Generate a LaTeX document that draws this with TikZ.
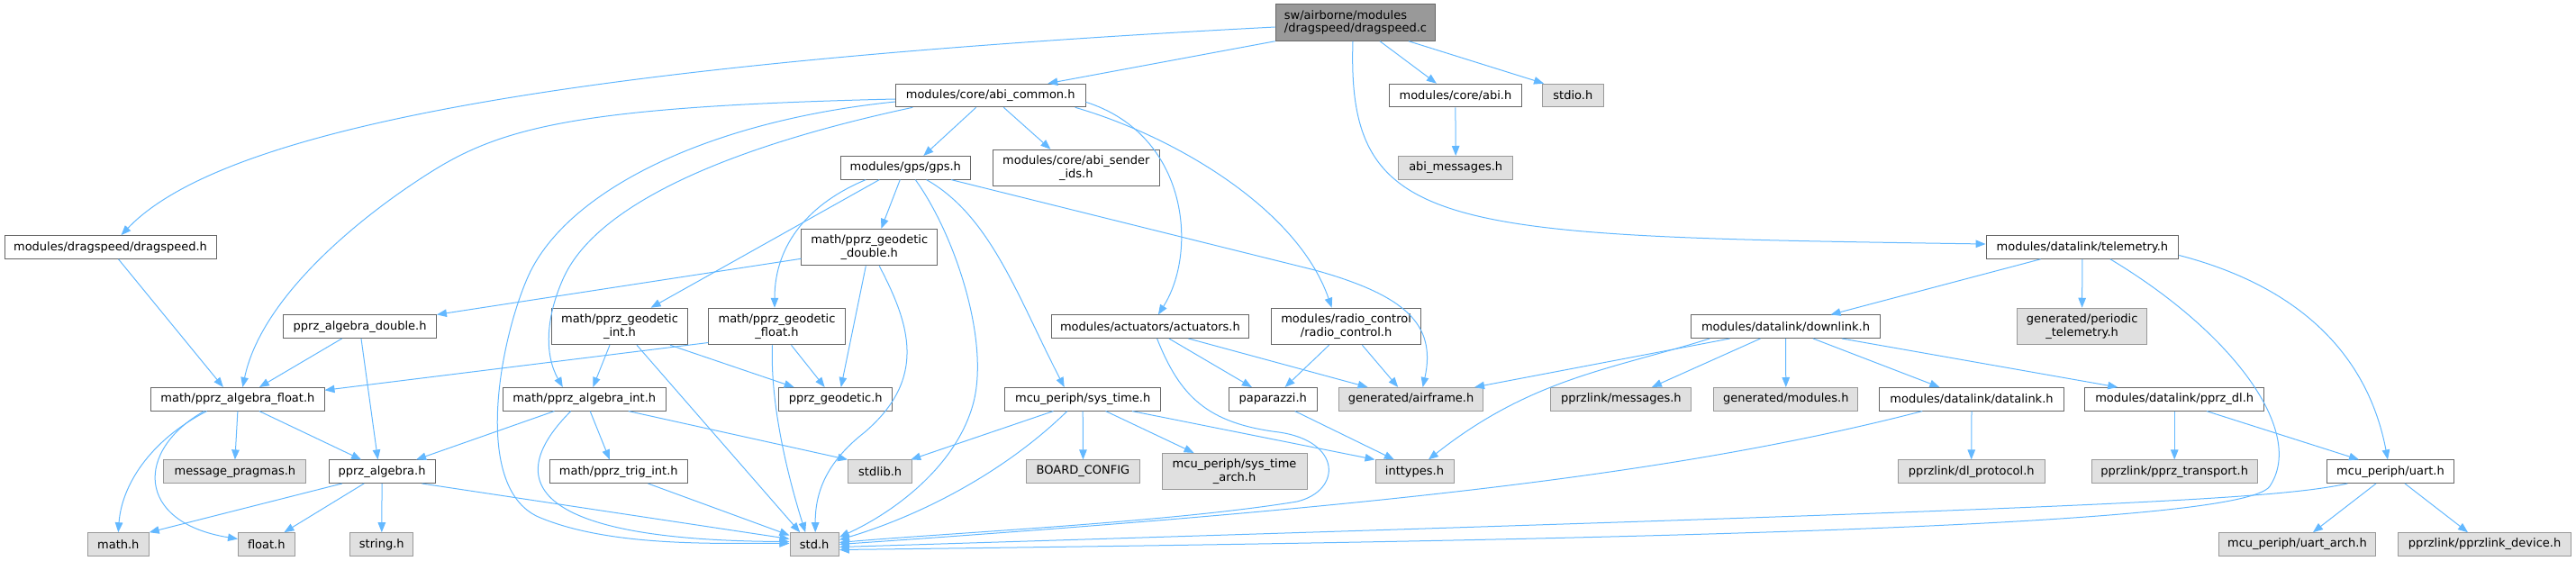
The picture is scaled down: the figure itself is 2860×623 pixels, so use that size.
\documentclass[tikz,border=0pt]{standalone}
\usepackage{fontspec}
\setmainfont{DejaVu Sans}
\usetikzlibrary{arrows.meta}
\definecolor{edgeblue}{HTML}{63B8FF}
\definecolor{bordw}{HTML}{666666}
\definecolor{bordg}{HTML}{999999}
\definecolor{fillg}{HTML}{E0E0E0}
\definecolor{fillr}{HTML}{999999}
\tikzset{
  basebox/.style={rectangle, line width=1pt, inner sep=0pt, text=black,
    font=\fontsize{13}{14.4}\selectfont, align=center, minimum height=25.6pt},
  wbox/.style={basebox, draw=bordw, fill=white},
  gbox/.style={basebox, draw=bordg, fill=fillg},
  rbox/.style={basebox, draw=bordw, fill=fillr, align=left},
  two/.style={minimum height=40.5pt},
  dep/.style={draw=edgeblue, line width=1pt, -{Triangle[length=11pt,width=8.5pt]}}
}
\begin{document}
\begin{tikzpicture}[x=1pt,y=-1pt]
\useasboundingbox (0,0) rectangle (2860,623);
% row 0
\node[rbox, two, minimum width=177.6pt] (root) at (1505,25) {sw/airborne/modules\\/dragspeed/dragspeed.c};
% row 1
\node[wbox, minimum width=210.7pt] (abic) at (1099.7,106) {modules/core/abi\_common.h};
\node[wbox, minimum width=146.9pt] (abi) at (1615.9,106) {modules/core/abi.h};
\node[gbox, minimum width=67.4pt] (stdio) at (1746.3,106) {stdio.h};
% row 2
\node[wbox, minimum width=144.6pt] (gps) at (1005.3,186.3) {modules/gps/gps.h};
\node[wbox, two, minimum width=185.6pt] (sender) at (1194.8,186.5) {modules/core/abi\_sender\\\_ids.h};
\node[gbox, minimum width=126.7pt] (abimsg) at (1616.2,186.3) {abi\_messages.h};
% row 3
\node[wbox, minimum width=235pt] (dsh) at (122.5,274.5) {modules/dragspeed/dragspeed.h};
\node[wbox, two, minimum width=151pt] (gdbl) at (965.3,274.7) {math/pprz\_geodetic\\\_double.h};
\node[wbox, minimum width=213.7pt] (telem) at (2311.9,274.5) {modules/datalink/telemetry.h};
% row 4
\node[wbox, minimum width=169.7pt] (adbl) at (399.6,362.7) {pprz\_algebra\_double.h};
\node[wbox, two, minimum width=151.2pt] (gint) at (688,362.5) {math/pprz\_geodetic\\\_int.h};
\node[wbox, two, minimum width=151.2pt] (gflt) at (862.5,362.5) {math/pprz\_geodetic\\\_float.h};
\node[wbox, minimum width=219.8pt] (act) at (1276.9,362.7) {modules/actuators/actuators.h};
\node[wbox, two, minimum width=166.6pt] (rc) at (1494.6,362.5) {modules/radio\_control\\/radio\_control.h};
\node[wbox, minimum width=210.5pt] (dl) at (1982.5,362.7) {modules/datalink/downlink.h};
\node[gbox, two, minimum width=144.1pt] (ptel) at (2311.6,362.5) {generated/periodic\\\_telemetry.h};
% row 5
\node[wbox, minimum width=192.2pt] (aflt) at (263.9,443.3) {math/pprz\_algebra\_float.h};
\node[wbox, minimum width=180.6pt] (aint) at (648.8,443.3) {math/pprz\_algebra\_int.h};
\node[wbox, minimum width=125.9pt] (pgeo) at (927.7,443.3) {pprz\_geodetic.h};
\node[wbox, minimum width=173.3pt] (syst) at (1202.2,443.3) {mcu\_periph/sys\_time.h};
\node[wbox, minimum width=98pt] (pap) at (1413.2,443.3) {paparazzi.h};
\node[gbox, minimum width=159.9pt] (afr) at (1566.6,443.3) {generated/airframe.h};
\node[gbox, minimum width=156.1pt] (msgs) at (1799.9,443.3) {pprzlink/messages.h};
\node[gbox, minimum width=160.1pt] (gmod) at (1982.8,443.3) {generated/modules.h};
\node[wbox, minimum width=204.1pt] (dlk) at (2189,443.3) {modules/datalink/datalink.h};
\node[wbox, minimum width=199pt] (pdl) at (2414.2,443.3) {modules/datalink/pprz\_dl.h};
% row 6
\node[gbox, minimum width=158pt] (mprag) at (260.9,523.7) {message\_pragmas.h};
\node[wbox, minimum width=118.2pt] (palg) at (424.1,523.7) {pprz\_algebra.h};
\node[wbox, minimum width=153.6pt] (trig) at (686.8,523.7) {math/pprz\_trig\_int.h};
\node[gbox, minimum width=71.1pt] (stdlib) at (977.2,523.7) {stdlib.h};
\node[gbox, minimum width=126.2pt] (board) at (1202.5,523.7) {BOARD\_CONFIG};
\node[gbox, two, minimum width=161.1pt] (sta) at (1370.6,523.7) {mcu\_periph/sys\_time\\\_arch.h};
\node[gbox, minimum width=87pt] (intt) at (1570.5,523.7) {inttypes.h};
\node[gbox, minimum width=162.6pt] (dlp) at (2188.7,523.7) {pprzlink/dl\_protocol.h};
\node[gbox, minimum width=183.6pt] (ptr) at (2414.2,523.7) {pprzlink/pprz\_transport.h};
\node[wbox, minimum width=140.3pt] (uart) at (2654,523.7) {mcu\_periph/uart.h};
% row 7
\node[gbox, minimum width=67.9pt] (mathh) at (131.3,604.5) {math.h};
\node[gbox, minimum width=62.5pt] (floath) at (295.8,604.5) {float.h};
\node[gbox, minimum width=69.8pt] (stringh) at (423.8,604.5) {string.h};
\node[gbox, minimum width=54.4pt] (stdh) at (904.2,604.5) {std.h};
\node[gbox, minimum width=174.1pt] (uarch) at (2550.4,604.5) {mcu\_periph/uart\_arch.h};
\node[gbox, minimum width=192.6pt] (pdev) at (2758.6,604.5) {pprzlink/pprzlink\_device.h};

% edges from root
\draw[dep] ([yshift=-5pt]root.west) .. controls (650,70) and (250,140) .. ([xshift=12pt]dsh.north);
\draw[dep] (root.south west) -- ([xshift=63.6pt]abic.north);
\draw[dep] ([xshift=27pt]root.south) -- ([xshift=-21pt]abi.north);
\draw[dep] ([xshift=59pt]root.south) -- ([xshift=2pt]stdio.north west);
\draw[dep] ([xshift=-3pt]root.south) .. controls (1495,260) and (1600,262) .. ([yshift=3.5pt]telem.west);
% abi_common
\draw[dep] ([xshift=14.6pt]abic.south) -- ([xshift=-28.4pt]sender.north);
\draw[dep] ([xshift=-16pt]abic.south) -- ([xshift=20pt]gps.north);
\draw[dep] ([yshift=-4pt]abic.west) .. controls (650,118) and (560,140) .. (480,190) .. controls (400,240) and (290,330) .. ([xshift=5.5pt]aflt.north);
\draw[dep] ([yshift=-7pt]abic.west) .. controls (780,135) and (625,215) .. (585,310) .. controls (553,385) and (525,545) .. (600,575) .. controls (680,608) and (800,603) .. ([yshift=1pt]stdh.west);
\draw[dep] ([xshift=-86.4pt]abic.south) .. controls (800,165) and (660,230) .. (625,310) .. controls (605,355) and (605,395) .. ([xshift=-24pt]aint.north);
\draw[dep] ([yshift=-7.3pt]abic.east) .. controls (1320,150) and (1330,280) .. ([xshift=9pt]act.north);
\draw[dep] ([xshift=94pt]abic.south) .. controls (1300,150) and (1440,230) .. ([xshift=-16pt]rc.north);
\draw[dep] (abi.south) -- (abimsg.north);
% gps
\draw[dep] ([xshift=-6pt]gps.south) -- ([xshift=13pt]gdbl.north);
\draw[dep] ([xshift=-29pt]gps.south) -- ([xshift=34.6pt]gint.north);
\draw[dep] ([xshift=-44pt]gps.south) .. controls (900,225) and (860,270) .. ([xshift=-2.5pt]gflt.north);
\draw[dep] ([xshift=11pt]gps.south) .. controls (1060,260) and (1100,380) .. (1080,450) .. controls (1060,520) and (990,570) .. ([yshift=8pt]stdh.east);
\draw[dep] ([xshift=23.3pt]gps.south) .. controls (1100,240) and (1130,330) .. ([xshift=-20.5pt]syst.north);
\draw[dep] ([xshift=50.7pt]gps.south) -- (1460,300) .. controls (1560,328) and (1595,360) .. ([xshift=13pt]afr.north);
% geodetic double
\draw[dep] ([yshift=-12.6pt]gdbl.west) -- (adbl.north east);
\draw[dep] ([xshift=-4pt]gdbl.south) -- ([xshift=6pt]pgeo.north);
\draw[dep] ([xshift=11pt]gdbl.south) .. controls (1010,360) and (1030,420) .. (960,480) .. controls (915,515) and (905,550) .. ([xshift=1pt]stdh.north);
% dragspeed.h, algebra double
\draw[dep] ([xshift=9pt]dsh.south) -- ([xshift=-16pt]aflt.north);
\draw[dep] ([xshift=-20pt]adbl.south) -- ([xshift=24pt]aflt.north);
\draw[dep] ([xshift=1.4pt]adbl.south) -- ([xshift=-4.6pt]palg.north);
% geodetic int / float
\draw[dep] ([xshift=-11pt]gint.south) -- ([xshift=9.5pt]aint.north);
\draw[dep] ([xshift=56pt]gint.south) -- ([xshift=-46pt]pgeo.north);
\draw[dep] ([xshift=19pt]gint.south) -- ([xshift=-16pt]stdh.north);
\draw[dep] ([yshift=-18pt]gflt.west) -- ([yshift=10pt]aflt.east);
\draw[dep] ([xshift=16pt]gflt.south) -- ([xshift=-12pt]pgeo.north);
\draw[dep] ([xshift=-5pt]gflt.south) .. controls (855,450) and (875,530) .. ([xshift=-10pt]stdh.north);
% algebra float
\draw[dep] ([xshift=-34.3pt]aflt.south) .. controls (165,490) and (135,540) .. (mathh.north);
\draw[dep] ([xshift=-37.3pt]aflt.south) .. controls (150,500) and (150,580) .. ([yshift=6pt]floath.west);
\draw[dep] (aflt.south) -- (mprag.north);
\draw[dep] ([xshift=24pt]aflt.south) -- ([xshift=-23pt]palg.north);
% pprz_algebra
\draw[dep] ([xshift=-44.4pt]palg.south) -- (mathh.north east);
\draw[dep] ([xshift=-20pt]palg.south) -- ([xshift=19.6pt]floath.north);
\draw[dep] (palg.south) -- (stringh.north);
\draw[dep] ([xshift=44.4pt]palg.south) -- ([yshift=6pt]stdh.west);
% algebra int
\draw[dep] ([xshift=-33.4pt]aint.south) -- ([xshift=38pt]palg.north);
\draw[dep] ([xshift=-15pt]aint.south) .. controls (560,530) and (580,600) .. ([yshift=3pt]stdh.west);
\draw[dep] ([xshift=6.4pt]aint.south) -- ([xshift=-10pt]trig.north);
\draw[dep] ([xshift=49pt]aint.south) -- (stdlib.north west);
\draw[dep] ([xshift=32.7pt]trig.south) -- ([yshift=10pt]stdh.west);
% sys_time
\draw[dep] ([xshift=-32.8pt]syst.south) -- ([xshift=-2pt]stdlib.north east);
\draw[dep] ([xshift=-17.4pt]syst.south) .. controls (1120,520) and (1030,570) .. ([yshift=5pt]stdh.east);
\draw[dep] (syst.south) -- (board.north);
\draw[dep] ([xshift=25.4pt]syst.south) -- ([xshift=-45pt]sta.north);
\draw[dep] ([xshift=54.8pt]syst.south) -- (intt.north west);
% actuators, radio control, paparazzi
\draw[dep] ([xshift=21pt]act.south) -- ([xshift=-23.3pt]pap.north);
\draw[dep] ([xshift=42.6pt]act.south) -- ([xshift=-48pt]afr.north);
\draw[dep] ([xshift=7.7pt]act.south) .. controls (1310,440) and (1340,470) .. (1420,480) .. controls (1490,490) and (1490,545) .. (1440,557) .. controls (1300,580) and (1050,592) .. ([yshift=2pt]stdh.east);
\draw[dep] ([xshift=-19pt]rc.south) -- ([xshift=13.4pt]pap.north);
\draw[dep] ([xshift=17.8pt]rc.south) -- ([xshift=-14.4pt]afr.north);
\draw[dep] ([xshift=24.5pt]pap.south) -- ([xshift=-22.6pt]intt.north);
% downlink
\draw[dep] ([xshift=-61.9pt]dl.south) -- ([xshift=-10pt]afr.north east);
\draw[dep] ([xshift=-84.2pt]dl.south) .. controls (1790,410) and (1700,420) .. ([xshift=15.4pt]intt.north);
\draw[dep] ([xshift=-28pt]dl.south) -- ([xshift=34pt]msgs.north);
\draw[dep] (dl.south) -- (gmod.north);
\draw[dep] ([xshift=30.5pt]dl.south) -- ([xshift=-35.6pt]dlk.north);
\draw[dep] ([xshift=62.5pt]dl.south) -- ([xshift=-63pt]pdl.north);
% datalink, pprz_dl, uart
\draw[dep] (dlk.south) -- (dlp.north);
\draw[dep] ([xshift=-54.8pt]dlk.south) .. controls (1850,530) and (1500,565) .. (stdh.east);
\draw[dep] (pdl.south) -- (ptr.north);
\draw[dep] ([xshift=35.7pt]pdl.south) -- ([xshift=-35pt]uart.north);
\draw[dep] ([xshift=-16pt]uart.south) -- ([xshift=17.5pt]uarch.north);
\draw[dep] ([xshift=16pt]uart.south) -- ([xshift=-18.6pt]pdev.north);
\draw[dep] ([xshift=-47.8pt]uart.south) .. controls (2520,556) and (2300,565) .. ([yshift=-3pt]stdh.east);
% telemetry
\draw[dep] ([xshift=-46.3pt]telem.south) -- ([xshift=50pt]dl.north);
\draw[dep] (telem.south) -- (ptel.north);
\draw[dep] ([xshift=31pt]telem.south) .. controls (2480,370) and (2560,480) .. (2520,540) .. controls (2490,585) and (1800,600) .. ([yshift=-6pt]stdh.east);
\draw[dep] ([yshift=-9pt]telem.east) .. controls (2560,320) and (2630,400) .. ([xshift=-3pt]uart.north);
\end{tikzpicture}
\end{document}
